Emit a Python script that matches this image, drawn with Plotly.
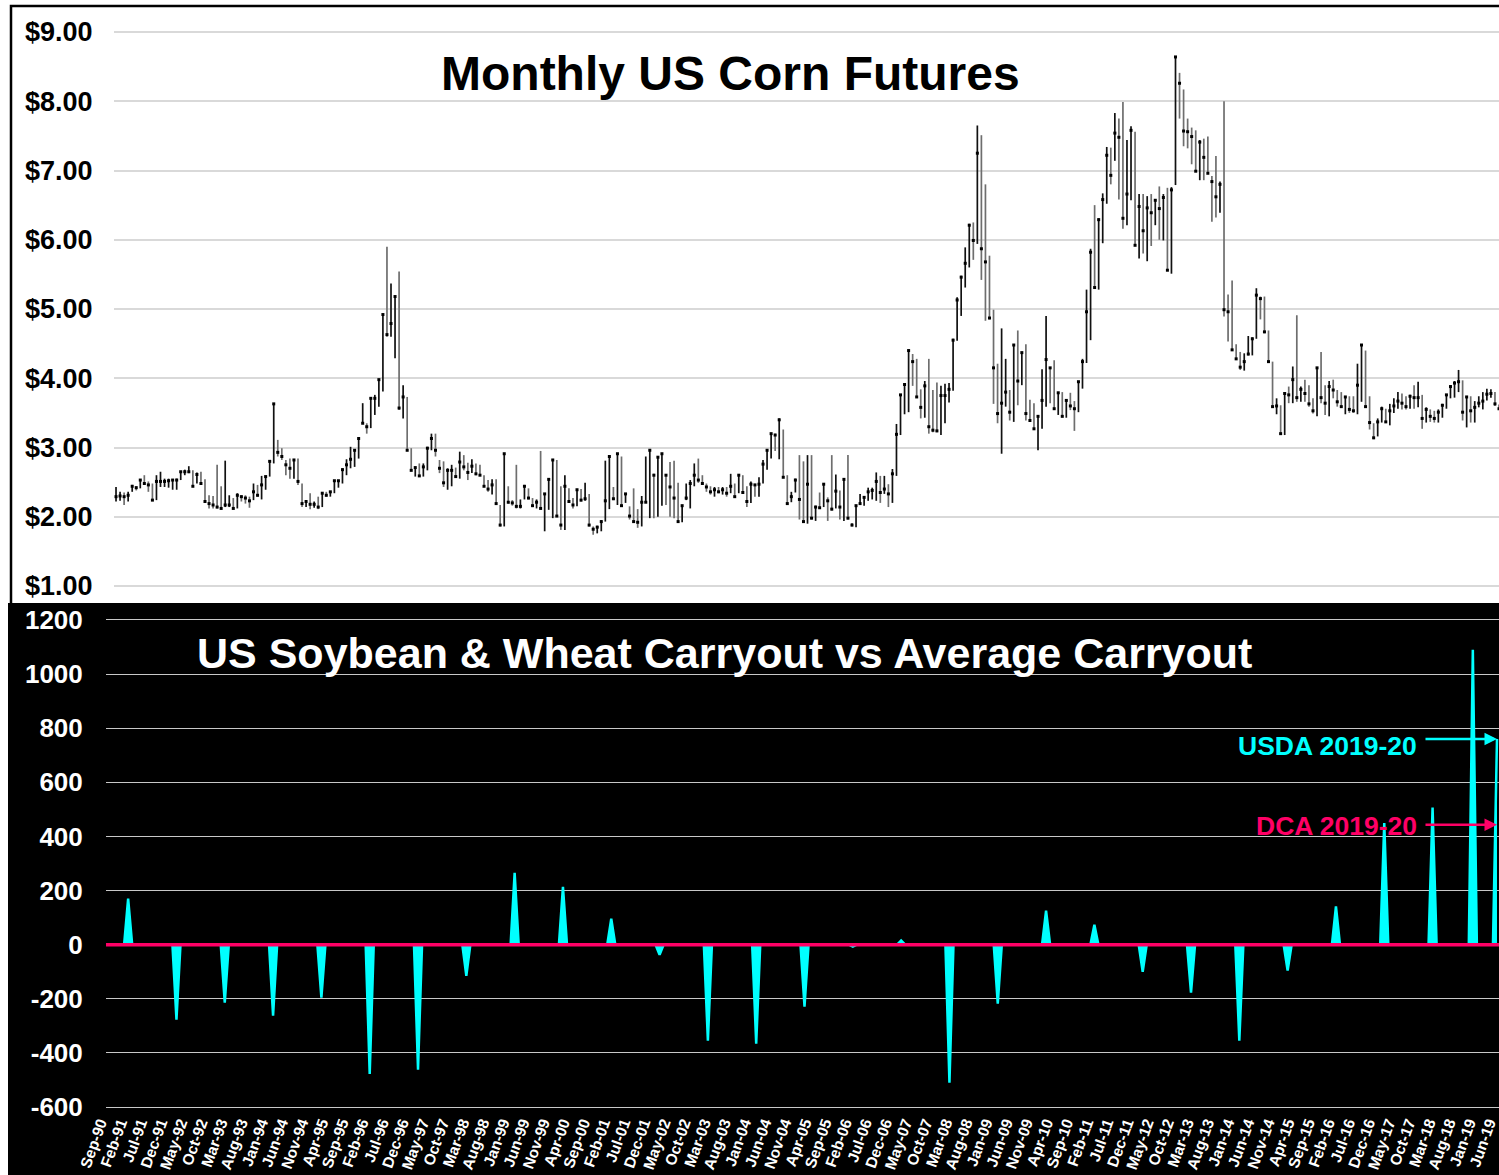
import plotly.graph_objects as go
import pandas as pd

# ---------------- DATA ----------------
START_MONTH = "1990-09-01"
N_MONTHS = 346  # Sep-90 .. Jun-19

corn_high = [
    2.43,2.36,2.35,2.36,2.46,2.44,2.54,2.60,2.51,2.48,
    2.60,2.65,2.55,2.55,2.54,2.55,2.65,2.68,2.73,2.67,
    2.64,2.65,2.54,2.31,2.30,2.75,2.44,2.81,2.31,2.27,
    2.34,2.31,2.31,2.29,2.48,2.46,2.59,2.58,2.82,3.63,
    3.11,2.99,2.82,2.84,2.82,2.84,2.48,2.24,2.34,2.22,
    2.29,2.34,2.36,2.36,2.53,2.53,2.70,2.83,3.01,2.96,
    3.13,3.64,3.35,3.71,3.76,3.98,4.92,5.90,5.37,5.18,
    5.54,3.90,3.73,2.99,2.72,2.77,2.77,3.01,3.20,3.20,
    2.82,2.80,2.70,
    2.75,2.71,2.94,2.89,2.78,2.83,2.77,
    2.75,2.60,2.53,2.54,2.54,2.17,2.91,2.44,2.24,2.75,
    2.25,2.46,2.41,2.27,2.25,2.95,2.34,2.54,2.83,2.82,
    2.44,2.60,2.41,2.27,2.40,2.40,2.49,2.33,1.86,1.87,
    1.95,2.81,2.88,2.43,2.92,2.87,2.34,2.15,2.41,2.11,
    2.30,2.87,2.97,2.62,2.87,2.92,2.60,2.79,2.81,2.49,
    2.16,2.48,2.53,2.77,2.84,2.60,2.48,2.44,2.43,2.43,
    2.43,2.43,2.62,2.48,2.60,2.60,2.44,2.51,2.47,2.57,
    2.82,2.97,3.21,3.20,3.42,3.26,2.60,2.36,2.55,2.89,
    2.80,2.89,2.89,2.16,2.35,2.47,2.28,2.89,2.61,2.38,
    2.54,2.89,1.91,2.17,2.33,2.29,2.42,2.42,2.64,2.59,
    2.59,2.47,2.69,3.34,3.77,3.92,4.41,4.35,4.28,3.84,
    3.96,4.28,3.83,3.94,3.89,3.92,3.93,4.57,5.17,5.48,
    5.89,6.23,6.25,7.65,7.51,6.80,5.77,4.99,4.21,
    4.72,4.28,3.83,4.48,4.69,4.38,4.49,3.69,3.64,3.47,4.13,
    4.90,4.16,4.26,3.80,3.80,3.69,3.79,3.67,3.96,4.28,
    5.28,5.87,6.50,6.31,6.67,7.34,7.33,7.83,7.75,7.99,
    7.44,7.64,7.56,6.66,6.66,6.63,6.66,6.58,6.77,6.66,
    6.75,6.76,8.64,8.41,8.17,7.75,7.62,7.58,7.44,
    7.46,7.49,6.92,7.21,6.84,8.00,5.21,5.41,4.49,4.38,4.36,
    4.61,4.59,5.30,5.18,5.18,4.69,4.24,3.71,3.61,3.80,
    3.88,4.17,4.91,3.88,3.98,3.90,3.71,4.15,4.38,3.90,
    3.96,3.98,3.83,3.80,3.74,3.74,3.74,4.21,4.49,4.40,
    3.74,3.35,3.42,3.59,3.56,3.63,3.71,3.80,3.78,3.74,
    3.76,3.90,3.95,3.76,3.58,3.55,3.53,3.55,3.63,3.77,
    3.90,3.96,4.12,3.97,3.74,3.74,3.67,3.74,3.80,3.85,
    3.84,3.80,3.62,
]

corn_low = [
    2.22,2.23,2.17,2.22,2.36,2.38,2.41,2.46,2.36,2.24,
    2.24,2.43,2.43,2.42,2.39,2.39,2.53,2.60,2.63,2.44,
    2.48,2.48,2.22,2.12,2.12,2.12,2.11,2.14,2.14,2.11,
    2.12,2.22,2.19,2.13,2.24,2.29,2.25,2.39,2.58,2.77,
    2.87,2.82,2.60,2.55,2.55,2.46,2.14,2.14,2.11,2.13,
    2.11,2.14,2.29,2.29,2.34,2.42,2.48,2.60,2.70,2.72,
    2.84,3.35,3.20,3.28,3.47,3.59,3.81,4.60,4.60,4.29,
    3.54,3.42,2.96,2.67,2.58,2.58,2.58,2.67,2.96,2.87,
    2.63,2.43,2.39,
    2.44,2.58,2.55,2.67,2.53,2.63,2.60,
    2.60,2.44,2.36,2.32,2.17,1.86,1.86,2.19,2.16,2.12,
    2.12,2.25,2.25,2.14,2.12,2.11,1.79,2.10,1.98,2.00,
    1.81,1.81,2.20,2.12,2.15,2.22,2.23,1.86,1.74,1.76,
    1.79,1.93,2.11,2.24,2.17,2.15,2.20,1.96,1.91,1.84,
    1.86,2.21,1.98,1.98,2.00,2.16,2.17,2.00,1.98,1.92,
    1.92,2.24,2.12,2.44,2.49,2.46,2.36,2.32,2.29,2.34,
    2.32,2.29,2.34,2.29,2.34,2.34,2.14,2.20,2.29,2.29,
    2.48,2.68,2.84,2.95,2.83,2.57,2.17,2.21,2.35,1.96,
    1.93,1.90,1.96,1.94,2.12,2.14,1.94,2.09,2.12,1.96,
    1.94,1.96,1.86,1.85,2.18,2.16,2.23,2.25,2.23,2.20,
    2.33,2.14,2.20,2.59,3.18,3.48,3.51,3.89,3.73,3.42,
    3.43,3.20,3.22,3.22,3.18,3.35,3.65,3.82,4.54,4.90,
    5.31,5.60,5.71,5.94,5.42,4.83,4.85,3.63,3.35,
    2.91,3.59,3.39,3.37,3.61,3.90,3.39,3.39,3.27,2.96,3.27,
    3.59,3.64,3.56,3.47,3.44,3.43,3.54,3.24,3.51,3.85,
    4.22,4.55,5.31,5.28,5.95,6.52,6.80,7.14,6.58,6.16,
    6.21,6.57,5.92,5.73,5.80,5.69,5.91,6.21,6.00,5.99,
    5.56,5.51,6.79,7.75,7.35,7.32,7.09,6.99,6.86,
    6.86,6.96,6.26,6.32,6.39,4.89,4.53,4.41,4.27,4.12,4.11,
    4.33,4.33,4.57,4.85,4.65,4.24,3.58,3.48,3.19,3.18,
    3.64,3.64,3.66,3.66,3.66,3.59,3.49,3.45,3.64,3.47,
    3.45,3.71,3.59,3.58,3.48,3.50,3.50,3.48,3.66,3.59,
    3.26,3.12,3.16,3.36,3.36,3.32,3.50,3.56,3.55,3.55,
    3.56,3.56,3.58,3.27,3.36,3.37,3.36,3.36,3.43,3.56,
    3.71,3.72,3.80,3.39,3.29,3.36,3.36,3.58,3.55,3.68,
    3.72,3.60,3.55,
]

corn_close = [
    2.29,2.30,2.29,2.31,2.44,2.42,2.53,2.48,2.46,2.24,
    2.51,2.51,2.51,2.52,2.53,2.53,2.65,2.65,2.65,2.44,
    2.61,2.48,2.22,2.19,2.17,2.14,2.12,2.17,2.17,2.12,
    2.31,2.29,2.27,2.23,2.36,2.31,2.46,2.58,2.80,3.63,
    2.93,2.87,2.75,2.70,2.82,2.51,2.19,2.22,2.18,2.18,
    2.14,2.34,2.31,2.36,2.52,2.52,2.68,2.75,2.83,2.96,
    3.13,3.35,3.30,3.71,3.71,3.98,4.92,4.63,4.79,5.18,
    3.57,3.73,2.96,2.67,2.71,2.59,2.72,2.99,3.13,2.96,
    2.70,2.49,2.67,
    2.67,2.58,2.79,2.72,2.64,2.73,2.62,
    2.60,2.44,2.40,2.46,2.19,1.88,2.91,2.21,2.20,2.15,
    2.15,2.44,2.27,2.16,2.21,2.12,2.33,2.54,2.82,2.01,
    1.88,2.44,2.22,2.17,2.39,2.24,2.26,1.88,1.82,1.85,
    1.93,2.23,2.87,2.26,2.91,2.16,2.33,2.01,1.93,1.92,
    2.21,2.21,2.96,2.60,2.86,2.91,2.60,2.43,2.27,1.93,
    2.16,2.27,2.48,2.60,2.53,2.48,2.43,2.36,2.39,2.36,
    2.39,2.34,2.44,2.29,2.60,2.35,2.22,2.47,2.46,2.47,
    2.76,2.96,3.20,3.18,3.40,2.57,2.19,2.29,2.53,2.25,
    1.93,2.47,1.98,2.14,2.13,2.47,2.23,2.11,2.37,2.14,
    2.54,1.98,1.88,2.16,2.19,2.28,2.36,2.38,2.51,2.35,
    2.40,2.33,2.62,3.19,3.76,3.91,4.40,4.24,3.73,3.58,
    3.89,3.30,3.25,3.24,3.75,3.75,3.84,4.55,5.13,5.46,
    5.66,6.21,5.99,7.25,5.87,5.68,4.87,4.15,3.49,
    3.64,3.80,3.51,4.48,3.96,4.37,3.49,3.39,3.27,3.45,3.68,
    4.27,4.15,3.56,3.79,3.45,3.68,3.60,3.56,3.95,4.24,
    4.96,5.82,5.31,6.29,6.58,7.22,6.93,7.54,7.48,6.31,
    6.66,7.58,5.92,6.48,6.13,6.46,6.39,6.57,6.45,6.61,
    5.56,6.72,8.64,8.26,7.57,7.56,7.49,6.99,7.41,
    7.19,6.96,6.84,6.62,6.80,4.99,4.96,4.41,4.28,4.16,4.24,
    4.35,4.57,5.20,5.15,4.67,4.24,3.59,3.60,3.20,3.78,
    3.76,3.98,3.72,3.84,3.78,3.63,3.53,4.15,3.72,3.64,
    3.88,3.83,3.66,3.59,3.73,3.55,3.53,3.90,4.48,3.59,
    3.36,3.14,3.37,3.56,3.37,3.53,3.60,3.67,3.64,3.59,
    3.74,3.72,3.72,3.42,3.55,3.45,3.42,3.51,3.61,3.76,
    3.88,3.93,3.95,3.51,3.73,3.53,3.58,3.64,3.67,3.77,
    3.78,3.63,3.56,
]

# Soybean & wheat carryout vs average (one value per marketing year)
carry_months = [
    "1991-02","1992-02","1993-02","1994-02","1995-02","1996-02","1997-02",
    "1998-02","1999-02","2000-02","2001-02","2002-02","2003-02","2004-02",
    "2005-02","2006-02","2007-02","2008-02","2009-02","2010-02","2011-02",
    "2012-02","2013-02","2014-02","2015-02","2016-02","2017-02","2018-02",
    "2018-12","2019-06",
]
carry_values = [
    170, -277, -214, -262, -196, -478, -462,
    -115, 266, 214, 96, -37, -355, -366,
    -229, -7, 15, -510, -218, 126, 74,
    -100, -177, -355, -96, 142, 450, 507,
    1090, 760,
]
usda_label, usda_value = "USDA 2019-20", 760
dca_label, dca_value = "DCA 2019-20", 443

top_title = "Monthly US Corn Futures"
bottom_title = "US Soybean & Wheat Carryout vs Average Carryout"
price_ticks = [1, 2, 3, 4, 5, 6, 7, 8, 9]
carry_ticks = [-600, -400, -200, 0, 200, 400, 600, 800, 1000, 1200]

# ---------------- BUILD ----------------
months = pd.date_range(START_MONTH, periods=N_MONTHS, freq="MS")
month_labels = [d.strftime("%b-%y") for d in months]
tick_idx = list(range(0, N_MONTHS, 5))
tick_text = [month_labels[i] for i in tick_idx]

carry_series = [0] * N_MONTHS
for m, v in zip(carry_months, carry_values):
    carry_series[months.get_loc(pd.Timestamp(m + "-01"))] = v

W, H = 1499, 1175
FONT = "Liberation Sans, Arial, sans-serif"
CYAN = "#00FFFF"
PINK = "#FF0066"


def fx(p):
    return p / W


def fy(p):
    return 1 - p / H


fig = go.Figure()

# Corn bars: split by direction vs previous close
up_x, up_c, up_h, up_l = [], [], [], []
dn_x, dn_c, dn_h, dn_l = [], [], [], []
for i, (h, l, c) in enumerate(zip(corn_high, corn_low, corn_close)):
    prev = corn_close[i - 1] if i > 0 else c
    if c >= prev:
        up_x.append(i); up_c.append(c); up_h.append(h - c); up_l.append(c - l)
    else:
        dn_x.append(i); dn_c.append(c); dn_h.append(h - c); dn_l.append(c - l)

for xs, cs, hs, ls, col in [(up_x, up_c, up_h, up_l, "#111111"),
                            (dn_x, dn_c, dn_h, dn_l, "#6e6e6e")]:
    fig.add_trace(go.Scatter(
        x=xs, y=cs, mode="markers",
        marker=dict(symbol="square", size=3, color="#000000"),
        error_y=dict(type="data", symmetric=False, array=hs, arrayminus=ls,
                     width=0, thickness=1.7, color=col),
        xaxis="x", yaxis="y", showlegend=False, hoverinfo="skip",
    ))

fig.add_trace(go.Scatter(
    x=list(range(N_MONTHS)), y=carry_series, mode="lines",
    line=dict(color=CYAN, width=2.5), fill="tozeroy", fillcolor=CYAN,
    xaxis="x2", yaxis="y2", showlegend=False, hoverinfo="skip",
))

fig.update_layout(
    width=W, height=H, autosize=False,
    margin=dict(l=0, r=0, t=0, b=0, pad=0, autoexpand=False),
    paper_bgcolor="white", plot_bgcolor="rgba(0,0,0,0)",
    font=dict(family=FONT),
    xaxis=dict(domain=[fx(114), 1], range=[-0.5, 342.0], anchor="y",
               automargin=False,
               showgrid=False, zeroline=False, showticklabels=False,
               showline=False, ticks=""),
    yaxis=dict(domain=[fy(603), fy(5)], range=[0.7545, 9.39], anchor="x",
               automargin=False,
               tickvals=price_ticks, tickformat="$.2f",
               showgrid=True, gridcolor="#d9d9d9", gridwidth=1.5,
               zeroline=False, showline=False,
               ticks="outside", ticklen=15, tickcolor="rgba(0,0,0,0)",
               tickfont=dict(size=27, color="black", family=FONT, weight="bold")),
    xaxis2=dict(domain=[fx(106), 1], range=[-0.5, 345.5], anchor="y2",
                automargin=False, ticklabeloverflow="allow",
                ticklabelshift=-8,
                tickvals=tick_idx, ticktext=tick_text, tickangle=-70,
                showgrid=False, zeroline=False, showline=False,
                ticks="",
                tickfont=dict(size=15.5, color="white", family=FONT, weight="bold")),
    yaxis2=dict(domain=[fy(1110), fy(603)], range=[-611, 1262.8], anchor="x2",
                automargin=False,
                tickvals=carry_ticks, ticktext=[str(v) for v in carry_ticks],
                showgrid=True, gridcolor="#c8c8c8", gridwidth=1,
                zeroline=False, showline=False,
                ticks="outside", ticklen=17, tickcolor="rgba(0,0,0,0)",
                tickfont=dict(size=26, color="white", family=FONT, weight="bold")),
    shapes=[
        dict(type="rect", xref="paper", yref="paper",
             x0=fx(11), x1=1.05, y0=fy(620), y1=fy(6),
             fillcolor="white", line=dict(color="black", width=2.5), layer="below"),
        dict(type="rect", xref="paper", yref="paper",
             x0=fx(8), x1=1.05, y0=-0.05, y1=fy(603),
             fillcolor="black", line=dict(width=0), layer="below"),
        dict(type="line", xref="x2 domain", yref="y2",
             x0=0, x1=1, y0=0, y1=0,
             line=dict(color=PINK, width=3.5), layer="above"),
    ],
    annotations=[
        dict(text=top_title, xref="paper", yref="paper",
             x=fx(730), y=fy(73), xanchor="center", yanchor="middle",
             showarrow=False,
             font=dict(size=48, color="black", family=FONT, weight="bold")),
        dict(text=bottom_title, xref="paper", yref="paper",
             x=fx(724), y=fy(653), xanchor="center", yanchor="middle",
             showarrow=False,
             font=dict(size=43, color="white", family=FONT, weight="bold")),
        dict(text=usda_label, xref="paper", yref="paper",
             x=fx(1419), y=fy(746), xanchor="right", yanchor="middle",
             showarrow=False,
             font=dict(size=26.5, color=CYAN, family=FONT, weight="bold")),
        dict(text=dca_label, xref="paper", yref="paper",
             x=fx(1419), y=fy(826), xanchor="right", yanchor="middle",
             showarrow=False,
             font=dict(size=26.5, color=PINK, family=FONT, weight="bold")),
        dict(text="", xref="x2", yref="y2", x=N_MONTHS - 1, y=usda_value,
             ax=-73, ay=0, showarrow=True, arrowhead=2, arrowsize=1,
             arrowwidth=2.5, arrowcolor=CYAN, standoff=0),
        dict(text="", xref="x2", yref="y2", x=N_MONTHS - 1, y=dca_value,
             ax=-73, ay=0, showarrow=True, arrowhead=2, arrowsize=1,
             arrowwidth=2.5, arrowcolor=PINK, standoff=0),
    ],
)

fig.write_html(
    "out.html",
    config={"displayModeBar": False},
    post_script="document.body.style.margin='0';document.body.style.overflow='hidden';",
)
